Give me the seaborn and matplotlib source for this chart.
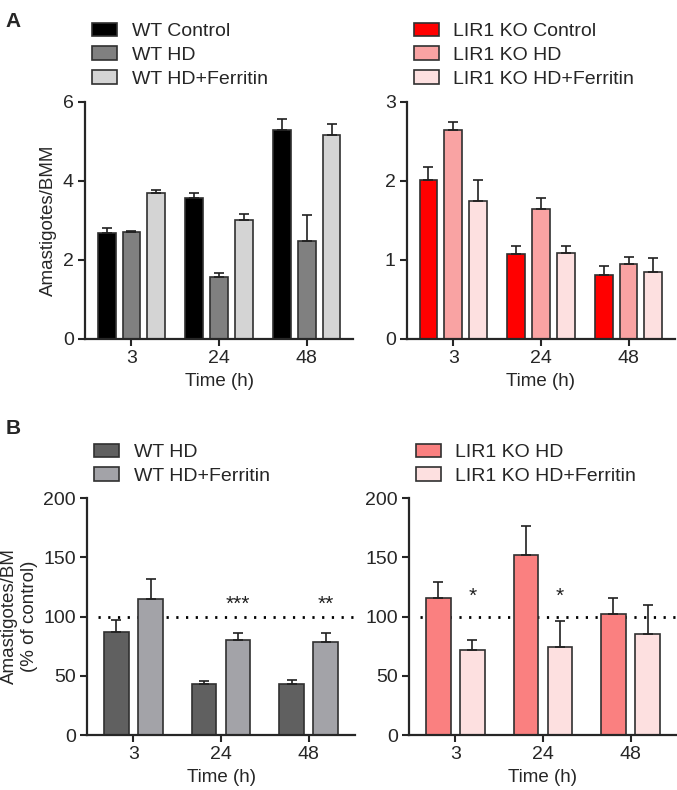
import matplotlib

matplotlib.use("Agg")
import matplotlib.pyplot as plt
import pandas as pd
import seaborn as sns
from matplotlib.patches import Patch


TIMES = ["3", "24", "48"]

# Panel A, WT (amastigotes per BMM, mean and SEM)
WT_GROUPS = ["WT Control", "WT HD", "WT HD+Ferritin"]
WT_CONTROL = [2.68, 3.58, 5.28]
WT_CONTROL_SEM = [0.14, 0.11, 0.28]
WT_HD = [2.70, 1.58, 2.48]
WT_HD_SEM = [0.04, 0.08, 0.66]
WT_HD_FER = [3.69, 3.00, 5.15]
WT_HD_FER_SEM = [0.08, 0.15, 0.30]
WT_COLORS = ["#000000", "#808080", "#d4d4d4"]

# Panel A, LIR1 KO
KO_GROUPS = ["LIR1 KO Control", "LIR1 KO HD", "LIR1 KO HD+Ferritin"]
KO_CONTROL = [2.01, 1.07, 0.81]
KO_CONTROL_SEM = [0.16, 0.11, 0.11]
KO_HD = [2.65, 1.64, 0.95]
KO_HD_SEM = [0.09, 0.15, 0.09]
KO_HD_FER = [1.75, 1.09, 0.85]
KO_HD_FER_SEM = [0.26, 0.09, 0.17]
KO_COLORS = ["#ff0000", "#f9a3a3", "#fde0e0"]

# Panel B, % of control
WT_PCT_GROUPS = ["WT HD", "WT HD+Ferritin"]
WT_PCT_HD = [87, 43, 43]
WT_PCT_HD_SEM = [10, 2.5, 3.5]
WT_PCT_FER = [115, 80.5, 78.5]
WT_PCT_FER_SEM = [16.5, 5.5, 8]
WT_PCT_COLORS = ["#606060", "#a3a3a8"]
WT_PCT_STARS = ["", "***", "**"]

KO_PCT_GROUPS = ["LIR1 KO HD", "LIR1 KO HD+Ferritin"]
KO_PCT_HD = [116, 152, 102]
KO_PCT_HD_SEM = [13, 24, 14]
KO_PCT_FER = [71.5, 74, 85]
KO_PCT_FER_SEM = [8.5, 22.5, 25]
KO_PCT_COLORS = ["#fa8080", "#fde0e0"]
KO_PCT_STARS = ["*", "*", ""]


def long_table(groups, values, sems):
    rows = []
    for group, vals, errs in zip(groups, values, sems):
        for t, v, e in zip(TIMES, vals, errs):
            rows.append({"time": t, "group": group, "value": v, "sem": e})
    return pd.DataFrame(rows)


def draw_panel(ax, groups, values, sems, colors, width, ylim, yticks,
               ylabel, legend_y, stars=None, star_y=None):
    df = long_table(groups, values, sems)
    sns.barplot(data=df, x="time", y="value", hue="group", hue_order=groups,
                palette=colors, order=TIMES, width=width, gap=0.28, saturation=1,
                edgecolor="#303030", linewidth=1.2, errorbar=None,
                legend=False, ax=ax)
    bar_sets = list(ax.containers)
    for container, errs in zip(bar_sets, sems):
        for bar, e in zip(container, errs):
            x = bar.get_x() + bar.get_width() / 2
            h = bar.get_height()
            ax.errorbar(x, h, yerr=[[0], [e]], fmt="none", ecolor="#202020",
                        elinewidth=1.2, capsize=3.5, capthick=1.2, zorder=1)
    if stars is not None:
        for bar, s, y in zip(bar_sets[-1], stars, star_y):
            if s:
                ax.text(bar.get_x() + bar.get_width() / 2, y, s,
                        ha="center", va="baseline", fontsize=15, color="#202020")

    ax.set_xlim(-0.53, 2.53)
    ax.set_ylim(*ylim)
    ax.set_yticks(yticks)
    ax.set_xlabel("Time (h)", fontsize=13.5, labelpad=4)
    ax.set_ylabel(ylabel, fontsize=13.5)
    ax.tick_params(axis="both", labelsize=14, width=1.5, length=5, pad=3)
    sns.despine(ax=ax)
    for side in ["left", "bottom"]:
        ax.spines[side].set_linewidth(1.6)

    handles = [Patch(facecolor=c, edgecolor="#303030", linewidth=1.2) for c in colors]
    ax.legend(handles, groups, loc="upper left", bbox_to_anchor=(0.025, legend_y),
              frameon=False, fontsize=14, handlelength=1.3, handleheight=0.7,
              handletextpad=0.75, labelspacing=0.32, borderaxespad=0, borderpad=0)


sns.set_theme(style="ticks")
plt.rcParams["font.family"] = ["Liberation Sans", "DejaVu Sans"]

fig = plt.figure(figsize=(6.77, 7.9), dpi=100)
ax_a1 = fig.add_axes([0.1256, 0.571, 0.396, 0.300])
ax_a2 = fig.add_axes([0.601, 0.571, 0.396, 0.300])
ax_b1 = fig.add_axes([0.1285, 0.0696, 0.396, 0.300])
ax_b2 = fig.add_axes([0.604, 0.0696, 0.396, 0.300])

draw_panel(ax_a1, WT_GROUPS, [WT_CONTROL, WT_HD, WT_HD_FER],
           [WT_CONTROL_SEM, WT_HD_SEM, WT_HD_FER_SEM], WT_COLORS, 0.85,
           (0, 6), [0, 2, 4, 6], "Amastigotes/BMM", 1.335)
draw_panel(ax_a2, KO_GROUPS, [KO_CONTROL, KO_HD, KO_HD_FER],
           [KO_CONTROL_SEM, KO_HD_SEM, KO_HD_FER_SEM], KO_COLORS, 0.85,
           (0, 3), [0, 1, 2, 3], "", 1.335)
draw_panel(ax_b1, WT_PCT_GROUPS, [WT_PCT_HD, WT_PCT_FER],
           [WT_PCT_HD_SEM, WT_PCT_FER_SEM], WT_PCT_COLORS, 0.78,
           (0, 200), [0, 50, 100, 150, 200], "Amastigotes/BM\n(% of control)", 1.23,
           stars=WT_PCT_STARS, star_y=[0, 106, 106])
draw_panel(ax_b2, KO_PCT_GROUPS, [KO_PCT_HD, KO_PCT_FER],
           [KO_PCT_HD_SEM, KO_PCT_FER_SEM], KO_PCT_COLORS, 0.78,
           (0, 200), [0, 50, 100, 150, 200], "", 1.23,
           stars=KO_PCT_STARS, star_y=[112, 112, 0])

for ax in [ax_b1, ax_b2]:
    ax.axhline(100, xmin=0.04, xmax=1.0, color="black", linewidth=2,
               linestyle=(0, (0.8, 2.7)), zorder=0.5)

fig.text(0.008, 0.985, "A", fontsize=15, fontweight="bold", va="top")
fig.text(0.008, 0.47, "B", fontsize=15, fontweight="bold", va="top")

fig.savefig("out.png", dpi=100)
